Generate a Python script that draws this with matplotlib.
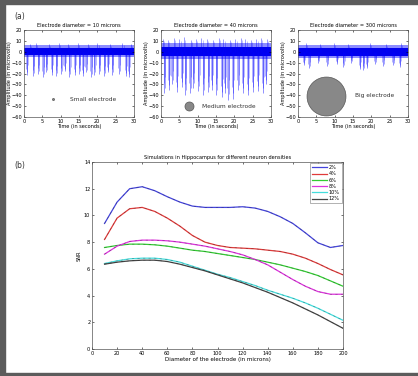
import numpy as np
import matplotlib
matplotlib.use("Agg")
import matplotlib.pyplot as plt
from matplotlib.patches import Rectangle

W, H = 418, 376

# ---- panel (a): recorded signals ----
titles = ["Electrode diameter = 10 microns",
          "Electrode diameter = 40 microns",
          "Electrode diameter = 300 microns"]
electrode_labels = ["Small electrode", "Medium electrode", "Big electrode"]

# noise band (core / outer) in microvolts
band_core = [(-3, 3), (-4, 4), (-4, 3)]
band_outer = [(-5, 6), (-7, 8), (-6, 6)]

# downward spikes: times (s) and depths (uV)
spike_t = [
    [0.8, 2.5, 3.9, 5.2, 6.1, 7.5, 8.8, 10.2, 11.1, 12.4, 13.8, 15.1, 16.0, 16.9,
     18.3, 19.2, 20.5, 21.9, 22.8, 24.1, 25.9, 27.7, 28.6],
    [0.9, 2.1, 3.0, 4.3, 5.7, 6.6, 7.9, 8.8, 10.2, 11.5, 12.9, 13.8, 15.1, 16.5,
     17.4, 18.3, 19.6, 21.0, 22.3, 23.7, 25.0, 26.4, 27.7, 28.6],
    [1.6, 3.0, 5.5, 7.9, 10.6, 12.4, 14.5, 16.8, 17.8, 18.7, 21.0, 23.2, 25.9, 27.7],
]
spike_d = [
    [-21, -22, -20, -23, -19, -21, -22, -20, -18, -23, -21, -20, -22, -19,
     -23, -21, -20, -22, -19, -21, -20, -22, -23],
    [-38, -35, -30, -37, -32, -40, -38, -33, -36, -40, -37, -35, -40, -42,
     -38, -44, -43, -35, -38, -40, -37, -36, -38, -30],
    [-12, -15, -10, -13, -11, -14, -10, -16, -17, -15, -11, -13, -12, -14],
]
# upward spikes
up_t = [
    [1.5, 3.2, 6.8, 9.5, 12.0, 14.6, 17.5, 20.0, 23.5, 26.8, 29.2],
    [0.5, 1.8, 3.5, 5.0, 6.3, 8.2, 9.6, 11.0, 12.5, 14.2, 15.8, 17.0, 18.8,
     20.3, 21.7, 23.0, 24.5, 26.0, 27.2, 28.9],
    [2.2, 6.0, 9.8, 13.5, 19.5, 24.0, 28.0],
]
up_h = [
    [7, 8, 7, 8, 7, 8, 7, 8, 7, 8, 7],
    [12, 11, 13, 12, 14, 11, 12, 13, 12, 11, 13, 12, 11, 12, 13, 12, 11, 12, 13, 12],
    [8, 7, 8, 7, 8, 7, 8],
]
marker_pos = [(7.9, -43.5), (7.5, -50), (7.6, -40.4)]
marker_size = [1.5, 6.5, 28]
label_x = [12.6, 11.3, 15.6]

# ---- panel (b): SNR vs diameter ----
diam = [10, 20, 30, 40, 50, 60, 70, 80, 90, 100, 110, 120, 130, 140, 150,
        160, 170, 180, 190, 200]
snr_2 = [9.4, 11.0, 12.0, 12.15, 11.85, 11.4, 11.0, 10.7, 10.6, 10.6, 10.6,
         10.65, 10.55, 10.3, 9.9, 9.4, 8.7, 7.95, 7.6, 7.75]
snr_4 = [8.2, 9.8, 10.5, 10.6, 10.3, 9.8, 9.2, 8.5, 8.0, 7.75, 7.6, 7.55, 7.5,
         7.4, 7.3, 7.1, 6.8, 6.4, 5.95, 5.55]
snr_6 = [7.6, 7.75, 7.85, 7.85, 7.8, 7.7, 7.55, 7.4, 7.3, 7.15, 7.0, 6.85, 6.7,
         6.5, 6.3, 6.05, 5.8, 5.5, 5.1, 4.7]
snr_8 = [7.1, 7.7, 8.05, 8.15, 8.15, 8.1, 8.0, 7.85, 7.7, 7.5, 7.3, 7.05, 6.7,
         6.3, 5.75, 5.2, 4.7, 4.3, 4.1, 4.1]
snr_10 = [6.4, 6.6, 6.75, 6.8, 6.8, 6.7, 6.5, 6.2, 5.9, 5.6, 5.35, 5.05, 4.75,
          4.4, 4.1, 3.8, 3.45, 3.05, 2.6, 2.15]
snr_12 = [6.35, 6.5, 6.6, 6.65, 6.65, 6.55, 6.35, 6.1, 5.85, 5.55, 5.25, 4.95,
          4.6, 4.25, 3.85, 3.45, 3.0, 2.55, 2.05, 1.55]
densities = ["2%", "4%", "6%", "8%", "10%", "12%"]
colors = ["#4444dd", "#e03a3a", "#33cc33", "#dd33dd", "#44dddd", "#444444"]

fs = 3.6


def px_axes(fig, l, r, t, b):
    return fig.add_axes([l / W, (H - b) / H, (r - l) / W, (b - t) / H])


def matlab_style(ax):
    ax.tick_params(direction="in", length=1.5, width=0.4, labelsize=fs, pad=1.2,
                   top=True, right=True)
    for s in ax.spines.values():
        s.set_linewidth(0.5)
        s.set_color("#555555")


fig = plt.figure(figsize=(W / 100, H / 100), dpi=100)
fig.patch.set_facecolor("white")
gray = "#5c5c5c"
fig.patches.append(Rectangle((0, 0), 5 / W, 1, transform=fig.transFigure, color=gray))
fig.patches.append(Rectangle((0, 1 - 4 / H), 1, 4 / H, transform=fig.transFigure, color=gray))
fig.patches.append(Rectangle((0, 0), 1, 3 / H, transform=fig.transFigure, color=gray))

lefts = [24, 161, 298]
for i in range(3):
    ax = px_axes(fig, lefts[i], lefts[i] + 110, 30, 117)
    lo, hi = band_outer[i]
    ax.fill_between([0, 30], lo, hi, color="blue", alpha=0.45, lw=0)
    t = np.array(spike_t[i])
    d = np.array(spike_d[i])
    for off, k, a in [(-0.18, 0.75, 0.35), (0.0, 1.0, 0.5), (0.15, 0.88, 0.4),
                      (0.3, 0.6, 0.3)]:
        ax.vlines(t + off, 0, d * k, color="blue", lw=0.6, alpha=a)
    u = np.array(up_t[i])
    h = np.array(up_h[i])
    ax.vlines(u, 0, h, color="blue", lw=0.6, alpha=0.45)
    ax.vlines(u + 0.35, 0, h * 0.8, color="blue", lw=0.5, alpha=0.35)
    lo, hi = band_core[i]
    ax.fill_between([0, 30], lo, hi, color="#0000ee", lw=0)
    mx, my = marker_pos[i]
    ax.plot(mx, my, "o", ms=marker_size[i], color="#888888", mec="#555555", mew=0.5)
    ax.text(label_x[i], my, electrode_labels[i], fontsize=fs + 0.6, va="center",
            color="#333333")
    ax.set_xlim(0, 30)
    ax.set_ylim(-60, 20)
    ax.set_xticks(range(0, 31, 5))
    ax.set_yticks(range(-60, 21, 10))
    ax.set_title(titles[i], fontsize=fs, pad=2.5)
    ax.set_xlabel("Time (in seconds)", fontsize=fs, labelpad=0.5)
    ax.set_ylabel("Amplitude (in microvolts)", fontsize=fs, labelpad=0)
    matlab_style(ax)

axb = px_axes(fig, 92, 343, 162, 349)
series = [snr_2, snr_4, snr_6, snr_8, snr_10, snr_12]
for name, vals, c in zip(densities, series, colors):
    axb.plot(diam, vals, color=c, lw=0.9, label=name)
    axb.plot(diam, vals, color="#222222", lw=0.4, ls=(0, (4, 6)), alpha=0.45)
axb.set_xlim(0, 200)
axb.set_ylim(0, 14)
axb.set_xticks(range(0, 201, 20))
axb.set_yticks(range(0, 15, 2))
axb.set_title("Simulations in Hippocampus for different neuron densities",
              fontsize=fs, pad=2.5)
axb.set_xlabel("Diameter of the electrode (in microns)", fontsize=fs + 0.4, labelpad=1)
axb.set_ylabel("SNR", fontsize=fs, labelpad=2)
matlab_style(axb)
leg = axb.legend(loc="upper right", fontsize=fs, handlelength=3, handletextpad=0.4,
                 borderpad=0.4, labelspacing=0.25, fancybox=False,
                 borderaxespad=0.2, framealpha=1)
leg.get_frame().set_linewidth(0.4)
leg.get_frame().set_edgecolor("#777777")

fig.text(14 / W, 1 - 16 / H, "(a)", fontsize=5.5, va="center", color="#333333")
fig.text(14 / W, 1 - 166 / H, "(b)", fontsize=5.5, va="center", color="#333333")

fig.savefig("out.png", dpi=100)
